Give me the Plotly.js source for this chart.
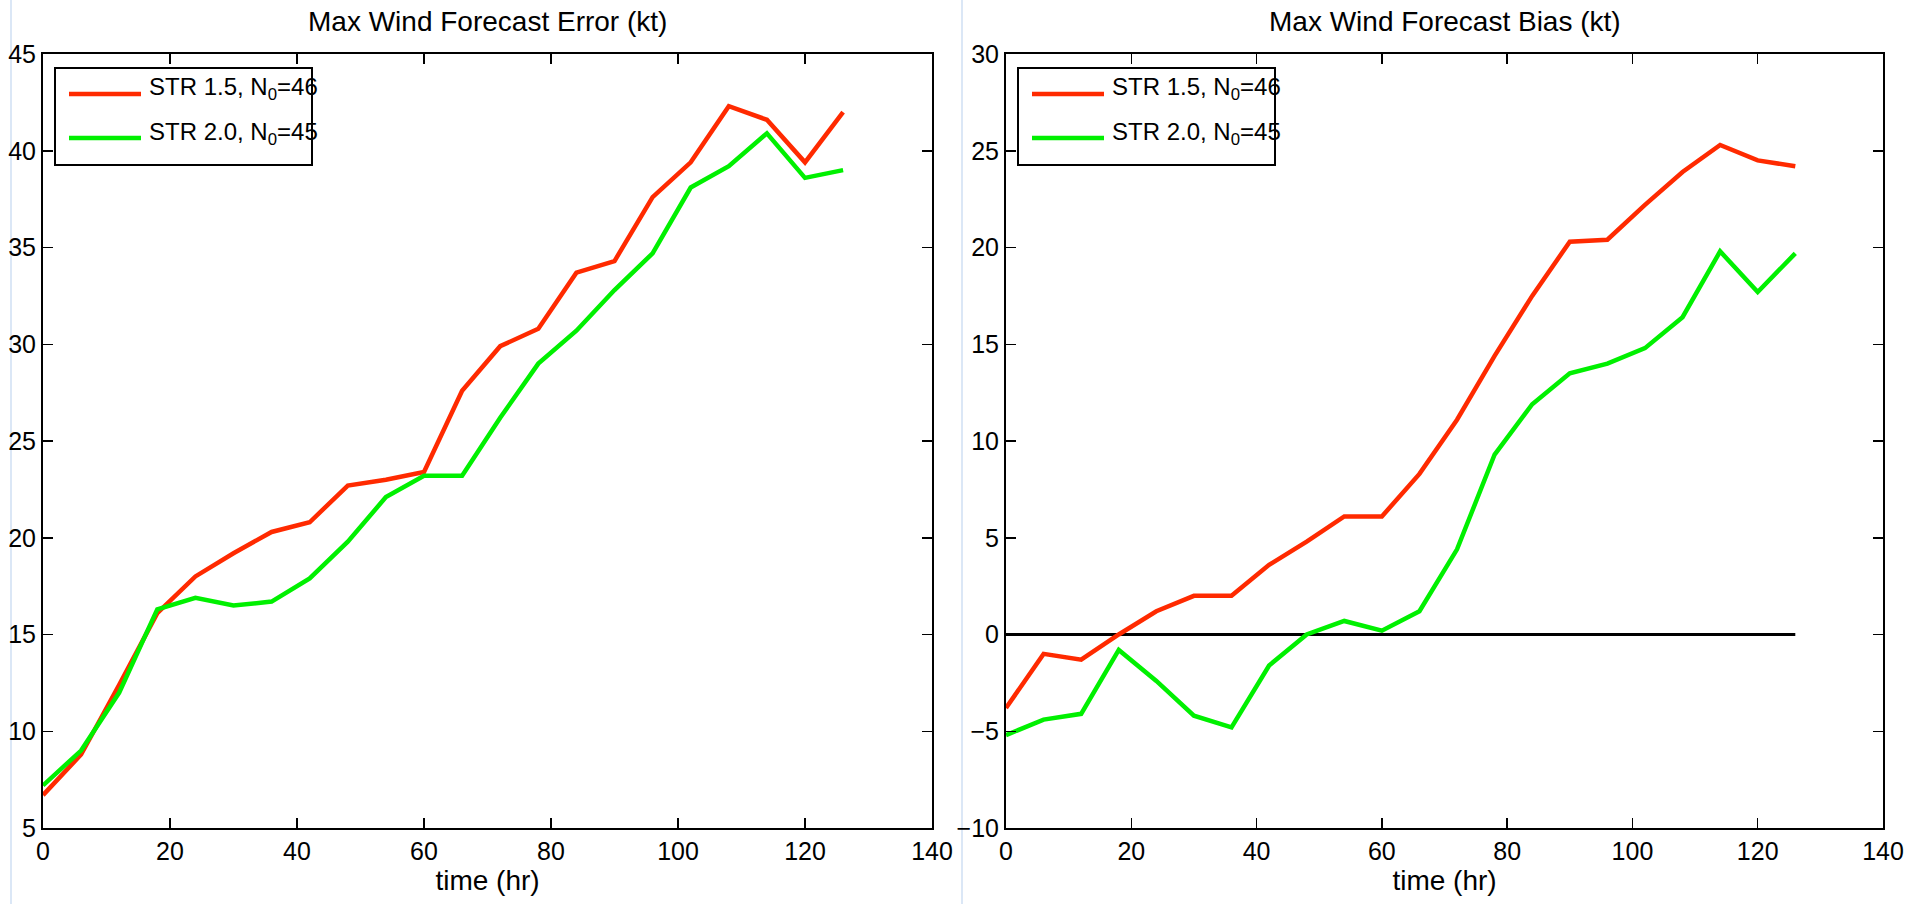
<!DOCTYPE html>
<html>
<head>
<meta charset="utf-8">
<script src="https://cdn.plot.ly/plotly-3.0.1.min.js"></script>
<style>
  html, body { margin: 0; padding: 0; background: #ffffff; }
  #chart { width: 1923px; height: 904px; }
</style>
</head>
<body>
<div id="chart"></div>
<script>
// ---- data ----
const hours = [0, 6, 12, 18, 24, 30, 36, 42, 48, 54, 60, 66, 72, 78, 84, 90, 96, 102, 108, 114, 120, 126];

const errorStr15 = [6.7, 8.8, 12.4, 16.1, 18.0, 19.2, 20.3, 20.8, 22.7, 23.0, 23.4, 27.6, 29.9, 30.8, 33.7, 34.3, 37.6, 39.4, 42.3, 41.6, 39.4, 42.0];
const errorStr20 = [7.2, 9.0, 12.0, 16.3, 16.9, 16.5, 16.7, 17.9, 19.8, 22.1, 23.2, 23.2, 26.2, 29.0, 30.7, 32.8, 34.7, 38.1, 39.2, 40.9, 38.6, 39.0];

const biasStr15 = [-3.8, -1.0, -1.3, 0.0, 1.2, 2.0, 2.0, 3.6, 4.8, 6.1, 6.1, 8.3, 11.1, 14.4, 17.5, 20.3, 20.4, 22.2, 23.9, 25.3, 24.5, 24.2];
const biasStr20 = [-5.2, -4.4, -4.1, -0.8, -2.4, -4.2, -4.8, -1.6, 0.0, 0.7, 0.2, 1.2, 4.4, 9.3, 11.9, 13.5, 14.0, 14.8, 16.4, 19.8, 17.7, 19.7];

const zeroRef = [0, 0];

const seriesNames = ["STR 1.5, N<sub>0</sub>=46", "STR 2.0, N<sub>0</sub>=45"];
const panelTitles = ["Max Wind Forecast Error (kt)", "Max Wind Forecast Bias (kt)"];
const xLabel = "time (hr)";
const xTicks = [0, 20, 40, 60, 80, 100, 120, 140];
const yTicksError = [5, 10, 15, 20, 25, 30, 35, 40, 45];
const yTicksBias = [-10, -5, 0, 5, 10, 15, 20, 25, 30];

// ---- styling ----
const W = 1923, H = 904;
const RED = '#ff2a00';
const GREEN = '#00f000';
const FONT = 'Liberation Sans, Arial, Helvetica, sans-serif';
const px = v => v / W;
const py = v => 1 - v / H;

const plotTop = 54, plotBot = 828;
const leftX0 = 43, leftX1 = 932;
const rightX0 = 1006, rightX1 = 1883;

const traces = [
  {x: hours, y: errorStr15, name: seriesNames[0], mode: 'lines', line: {color: RED, width: 4.5}, xaxis: 'x', yaxis: 'y', showlegend: false},
  {x: hours, y: errorStr20, name: seriesNames[1], mode: 'lines', line: {color: GREEN, width: 4.5}, xaxis: 'x', yaxis: 'y', showlegend: false},
  {x: [hours[0], hours[hours.length - 1]], y: zeroRef, name: 'zero', mode: 'lines', line: {color: '#000000', width: 3}, xaxis: 'x2', yaxis: 'y2', showlegend: false},
  {x: hours, y: biasStr15, name: seriesNames[0], mode: 'lines', line: {color: RED, width: 4.5}, xaxis: 'x2', yaxis: 'y2', showlegend: false},
  {x: hours, y: biasStr20, name: seriesNames[1], mode: 'lines', line: {color: GREEN, width: 4.5}, xaxis: 'x2', yaxis: 'y2', showlegend: false}
];

function xAxis(domain, anchor) {
  return {
    domain: domain, anchor: anchor, range: [0, 140], tickvals: xTicks,
    ticks: 'inside', ticklen: 10, tickwidth: 1.5, tickcolor: '#000',
    showline: true, linewidth: 2, linecolor: '#000', mirror: 'allticks',
    showgrid: false, zeroline: false,
    tickfont: {family: FONT, size: 25, color: '#000'},
    title: {text: xLabel, font: {family: FONT, size: 28, color: '#000'}, standoff: 6},
    automargin: false, fixedrange: true
  };
}
function yAxis(range, ticks, anchor) {
  return {
    domain: [py(plotBot), py(plotTop)], anchor: anchor, range: range, tickvals: ticks,
    ticks: 'inside', ticklen: 10, tickwidth: 1.5, tickcolor: '#000',
    showline: true, linewidth: 2, linecolor: '#000', mirror: 'allticks',
    showgrid: false, zeroline: false,
    tickfont: {family: FONT, size: 25, color: '#000'},
    automargin: false, fixedrange: true
  };
}

const shapes = [];
const annotations = [];

// panel titles and legends
[[leftX0, leftX1], [rightX0, rightX1]].forEach((p, i) => {
  annotations.push({
    xref: 'paper', yref: 'paper', x: px((p[0] + p[1]) / 2), y: py(22),
    xanchor: 'center', yanchor: 'middle', showarrow: false,
    text: panelTitles[i], font: {family: FONT, size: 28, color: '#000'}
  });
  const bx0 = p[0] + 12, bx1 = p[0] + 269;
  shapes.push({type: 'rect', xref: 'paper', yref: 'paper', x0: px(bx0), x1: px(bx1), y0: py(68), y1: py(165),
    line: {color: '#000', width: 2}, fillcolor: '#ffffff', layer: 'above'});
  [[RED, 94, seriesNames[0]], [GREEN, 138, seriesNames[1]]].forEach(e => {
    shapes.push({type: 'line', xref: 'paper', yref: 'paper', x0: px(p[0] + 26), x1: px(p[0] + 98), y0: py(e[1]), y1: py(e[1]),
      line: {color: e[0], width: 4.5}, layer: 'above'});
    annotations.push({xref: 'paper', yref: 'paper', x: px(p[0] + 104), y: py(e[1] - 5), xanchor: 'left', yanchor: 'middle',
      showarrow: false, text: e[2], font: {family: FONT, size: 24, color: '#000'}});
  });
});

// faint light-blue page edges visible in the reference
shapes.push({type: 'line', xref: 'paper', yref: 'paper', x0: px(11), x1: px(11), y0: 0, y1: 1, line: {color: '#dbe7f6', width: 2}, layer: 'below'});
shapes.push({type: 'line', xref: 'paper', yref: 'paper', x0: px(962), x1: px(962), y0: 0, y1: 1, line: {color: '#dbe7f6', width: 2}, layer: 'below'});

const layout = {
  width: W, height: H,
  margin: {l: 0, r: 0, t: 0, b: 0, pad: 0},
  paper_bgcolor: '#ffffff', plot_bgcolor: '#ffffff',
  font: {family: FONT, color: '#000'},
  showlegend: false,
  xaxis: xAxis([px(leftX0), px(leftX1)], 'y'),
  yaxis: yAxis([5, 45], yTicksError, 'x'),
  xaxis2: xAxis([px(rightX0), px(rightX1)], 'y2'),
  yaxis2: yAxis([-10, 30], yTicksBias, 'x2'),
  shapes: shapes,
  annotations: annotations
};

Plotly.newPlot('chart', traces, layout, {staticPlot: true, displayModeBar: false});
</script>
</body>
</html>
